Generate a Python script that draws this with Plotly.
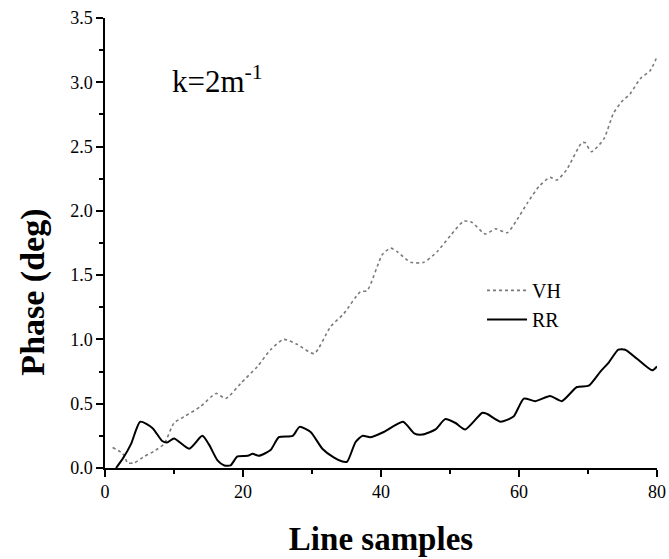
import plotly.graph_objects as go

vh_x = [1.1, 2.6, 3.3, 4.2, 5.7, 7.1, 8.6, 10.0, 11.5, 13.9, 16.1, 17.5, 19.7, 22.1, 24.0, 25.9, 27.9,
        30.3, 32.7, 34.6, 37.0, 38.0, 40.2, 41.4, 42.4, 44.3, 46.2, 48.1, 50.1, 52.0, 53.2, 55.1, 56.6,
        58.3, 59.7, 61.2, 62.9, 64.5, 65.5, 66.9, 69.1, 69.6, 70.5, 72.3, 73.7, 74.9, 76.1, 77.6, 79.0, 80.0]
vh_y = [0.16, 0.11, 0.04, 0.04, 0.09, 0.13, 0.19, 0.35, 0.40, 0.48, 0.58, 0.54, 0.66, 0.79, 0.92, 1.00, 0.96,
        0.89, 1.10, 1.20, 1.37, 1.38, 1.66, 1.71, 1.68, 1.60, 1.60, 1.68, 1.81, 1.92, 1.91, 1.82, 1.86,
        1.83, 1.93, 2.06, 2.19, 2.26, 2.24, 2.32, 2.53, 2.53, 2.46, 2.56, 2.76, 2.85, 2.91, 3.03, 3.09, 3.20]

rr_x = [1.6, 2.6, 3.8, 5.1, 6.9, 8.3, 9.1, 10.0, 12.2, 14.1, 15.1, 16.3, 17.3, 18.2, 19.2, 20.7, 21.4,
        22.3, 24.0, 25.2, 27.2, 28.2, 29.8, 31.5, 33.2, 34.4, 35.1, 36.3, 37.3, 38.5, 40.4, 43.2, 44.8,
        46.0, 47.9, 49.3, 50.8, 52.2, 54.7, 55.4, 57.3, 59.2, 60.7, 62.4, 64.5, 66.2, 68.4, 70.1, 71.8,
        73.0, 74.4, 75.4, 77.1, 79.3, 80.0]
rr_y = [0.0, 0.075, 0.19, 0.36, 0.31, 0.21, 0.20, 0.23, 0.15, 0.25, 0.18, 0.06, 0.02, 0.02, 0.09, 0.095, 0.11,
        0.095, 0.14, 0.24, 0.25, 0.32, 0.28, 0.15, 0.08, 0.05, 0.05, 0.20, 0.25, 0.24, 0.28, 0.36, 0.27,
        0.26, 0.30, 0.38, 0.35, 0.30, 0.43, 0.42, 0.36, 0.40, 0.54, 0.52, 0.56, 0.52, 0.63, 0.64, 0.75,
        0.82, 0.92, 0.92, 0.85, 0.76, 0.79]

x_ticks = [0, 20, 40, 60, 80]
y_ticks = [0.0, 0.5, 1.0, 1.5, 2.0, 2.5, 3.0, 3.5]

serif = "Liberation Serif"

fig = go.Figure()
fig.add_trace(go.Scatter(x=vh_x, y=vh_y, mode="lines", name="VH",
                         line=dict(color="#7a7a7a", width=1.6, dash="dot", shape="spline", smoothing=0.6)))
fig.add_trace(go.Scatter(x=rr_x, y=rr_y, mode="lines", name="RR",
                         line=dict(color="black", width=2, shape="spline", smoothing=0.6)))

axis_common = dict(showline=True, linecolor="black", linewidth=1.5, ticks="outside",
                   tickcolor="black", tickwidth=1.5, ticklen=7, showgrid=False, zeroline=False,
                   automargin=False, ticklabeloverflow="allow",
                   tickfont=dict(family=serif, size=18, color="black"))

fig.update_xaxes(range=[0, 80], tickvals=x_ticks, ticktext=[str(v) for v in x_ticks],
                 minor=dict(dtick=10, tick0=0, ticks="outside", ticklen=4, tickcolor="black", tickwidth=1.5),
                 title=dict(text="<b>Line samples</b>", font=dict(family=serif, size=33, color="black"), standoff=26),
                 **axis_common)
fig.update_yaxes(range=[0, 3.5], tickvals=y_ticks, ticktext=[f"{v:.1f}" for v in y_ticks],
                 minor=dict(dtick=0.25, tick0=0, ticks="outside", ticklen=4, tickcolor="black", tickwidth=1.5),
                 **axis_common)

# y-axis title (placed slightly below centre, as in the reference)
fig.add_annotation(x=-0.132, y=0.39, xref="paper", yref="paper", text="<b>Phase (deg)</b>",
                   textangle=-90, showarrow=False, xanchor="center", yanchor="middle",
                   font=dict(family=serif, size=34, color="black"))

fig.add_annotation(x=9.4, y=3.02, xref="x", yref="y", text="k=2m<sup>-1</sup>", showarrow=False,
                   xanchor="left", yanchor="middle", font=dict(family=serif, size=31, color="black"))

fig.update_layout(
    width=669, height=559,
    margin=dict(l=105, r=12, t=18, b=91),
    plot_bgcolor="white", paper_bgcolor="white",
    legend=dict(x=0.683, y=0.438, xanchor="left", yanchor="top", bgcolor="rgba(0,0,0,0)",
                font=dict(family=serif, size=20, color="black"), itemwidth=40, tracegroupgap=0),
)

fig.write_html("out.html", config={"displayModeBar": False},
               post_script="document.body.style.margin='0';document.body.style.overflow='hidden';")
